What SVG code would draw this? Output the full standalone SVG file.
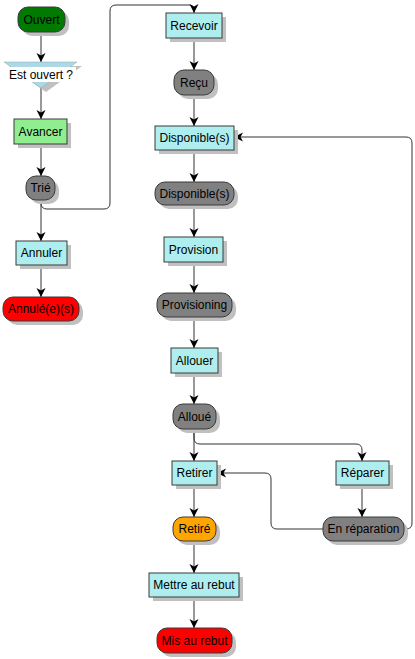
<svg xmlns="http://www.w3.org/2000/svg" width="415" height="659" viewBox="0 0 415 659">
<defs>
<style>
.sh{fill:#c0c0c0;stroke:none}
.box{fill:#afeeee;stroke:#3a3a3a;stroke-width:1}
.st{fill:#808080;stroke:#3a3a3a;stroke-width:1}
.t{font-family:"Liberation Sans",Arial,sans-serif;font-size:12px;fill:#000;text-anchor:middle}
.c{fill:none;stroke:#333;stroke-width:1;marker-end:url(#ah)}
</style>
<marker id="ah" markerUnits="userSpaceOnUse" markerWidth="10" markerHeight="10" refX="9" refY="5" orient="auto">
<path d="M0,0.5 L9,5 L0,9.5 L2.5,5 Z" fill="#000"/>
</marker>
</defs>
<rect width="415" height="659" fill="#fff"/>
<g id="connectors">
<path class="c" d="M41,32 V62"/>
<path class="c" d="M41,88 V119"/>
<path class="c" d="M41,144 V176"/>
<path class="c" d="M41,200 V241"/>
<path class="c" d="M41,265 V297"/>
<path class="c" d="M41,200 V203 Q41,209 47,209 H104 Q110,209 110,203 V11 Q110,5 116,5 H189 Q194,5 194,10 V13"/>
<path class="c" d="M194,38 V70"/>
<path class="c" d="M194,95 V126"/>
<path class="c" d="M194,150 V182"/>
<path class="c" d="M194,205 V237"/>
<path class="c" d="M194,262 V293"/>
<path class="c" d="M194,317 V348"/>
<path class="c" d="M194,373 V404"/>
<path class="c" d="M194,429 V461"/>
<path class="c" d="M194,429 V438 Q194,444 200,444 H356 Q362,444 362,450 V461"/>
<path class="c" d="M194,485 V517"/>
<path class="c" d="M194,541 V573"/>
<path class="c" d="M194,597 V628"/>
<path class="c" d="M362,485 V517"/>
<path class="c" d="M323,529 H277 Q271,529 271,523 V479 Q271,473 265,473 H217"/>
<path class="c" d="M404,529 H406 Q412,529 412,523 V143 Q412,137 406,137 H234"/>
</g>
<g id="ouvert">
<rect class="sh" x="22" y="11" width="47" height="25" rx="10"/>
<rect x="18" y="7" width="47" height="25" rx="10" fill="#007a00" stroke="#3a3a3a"/>
<text class="t" x="41.5" y="23.5">Ouvert</text>
</g>
<g id="estouvert">
<polygon class="sh" points="9,66 82,66 46,92"/>
<polygon points="4,62 77,62 41,88" fill="#add8e6" stroke="#8aa" stroke-width="0.5"/>
<rect x="7" y="67" width="69" height="15" fill="#fff"/>
<text class="t" x="41" y="79">Est ouvert ?</text>
</g>
<g id="avancer">
<rect class="sh" x="18" y="123" width="53" height="25"/>
<rect x="14" y="119" width="53" height="25" fill="#90ee90" stroke="#3a3a3a"/>
<text class="t" x="40.5" y="135.5">Avancer</text>
</g>
<g id="trie">
<rect class="sh" x="30" y="180" width="29" height="24" rx="10"/>
<rect class="st" x="26" y="176" width="29" height="24" rx="10"/>
<text class="t" x="40.5" y="192">Trié</text>
</g>
<g id="annuler">
<rect class="sh" x="20" y="245" width="51" height="24"/>
<rect class="box" x="16" y="241" width="51" height="24"/>
<text class="t" x="41.5" y="257">Annuler</text>
</g>
<g id="annules">
<rect class="sh" x="7" y="301" width="76" height="24" rx="10"/>
<rect x="3" y="297" width="76" height="24" rx="10" fill="#ff0000" stroke="#3a3a3a"/>
<text class="t" x="41" y="313">Annulé(e)(s)</text>
</g>
<g id="recevoir">
<rect class="sh" x="170" y="17" width="56" height="25"/>
<rect class="box" x="166" y="13" width="56" height="25"/>
<text class="t" x="194" y="29.5">Recevoir</text>
</g>
<g id="recu">
<rect class="sh" x="178" y="74" width="40" height="25" rx="10"/>
<rect class="st" x="174" y="70" width="40" height="25" rx="10"/>
<text class="t" x="194" y="86.5">Reçu</text>
</g>
<g id="disponible-action">
<rect class="sh" x="159" y="130" width="79" height="24"/>
<rect class="box" x="155" y="126" width="79" height="24"/>
<text class="t" x="194.5" y="142">Disponible(s)</text>
</g>
<g id="disponible-state">
<rect class="sh" x="159" y="186" width="79" height="23" rx="10"/>
<rect class="st" x="155" y="182" width="79" height="23" rx="10"/>
<text class="t" x="194.5" y="197.5">Disponible(s)</text>
</g>
<g id="provision">
<rect class="sh" x="168" y="241" width="59" height="25"/>
<rect class="box" x="164" y="237" width="59" height="25"/>
<text class="t" x="193.5" y="253.5">Provision</text>
</g>
<g id="provisioning">
<rect class="sh" x="161" y="297" width="75" height="24" rx="10"/>
<rect class="st" x="157" y="293" width="75" height="24" rx="10"/>
<text class="t" x="194.5" y="309">Provisioning</text>
</g>
<g id="allouer">
<rect class="sh" x="175" y="352" width="47" height="25"/>
<rect class="box" x="171" y="348" width="47" height="25"/>
<text class="t" x="194.5" y="364.5">Allouer</text>
</g>
<g id="alloue">
<rect class="sh" x="177" y="408" width="43" height="25" rx="10"/>
<rect class="st" x="173" y="404" width="43" height="25" rx="10"/>
<text class="t" x="194.5" y="420.5">Alloué</text>
</g>
<g id="retirer">
<rect class="sh" x="176" y="465" width="45" height="24"/>
<rect class="box" x="172" y="461" width="45" height="24"/>
<text class="t" x="194.5" y="477">Retirer</text>
</g>
<g id="reparer">
<rect class="sh" x="340" y="465" width="53" height="24"/>
<rect class="box" x="336" y="461" width="53" height="24"/>
<text class="t" x="362.5" y="477">Réparer</text>
</g>
<g id="enreparation">
<rect class="sh" x="327" y="521" width="81" height="24" rx="10"/>
<rect class="st" x="323" y="517" width="81" height="24" rx="10"/>
<text class="t" x="363.5" y="533">En réparation</text>
</g>
<g id="retire">
<rect class="sh" x="177" y="521" width="43" height="24" rx="10"/>
<rect x="173" y="517" width="43" height="24" rx="10" fill="#ffa500" stroke="#3a3a3a"/>
<text class="t" x="194.5" y="533">Retiré</text>
</g>
<g id="mettreaurebut">
<rect class="sh" x="153" y="577" width="90" height="24"/>
<rect class="box" x="149" y="573" width="90" height="24"/>
<text class="t" x="194" y="589">Mettre au rebut</text>
</g>
<g id="misaurebut">
<rect class="sh" x="161" y="632" width="75" height="25" rx="10"/>
<rect x="157" y="628" width="75" height="25" rx="10" fill="#ff0000" stroke="#3a3a3a"/>
<text class="t" x="194.5" y="644.5">Mis au rebut</text>
</g>
</svg>
